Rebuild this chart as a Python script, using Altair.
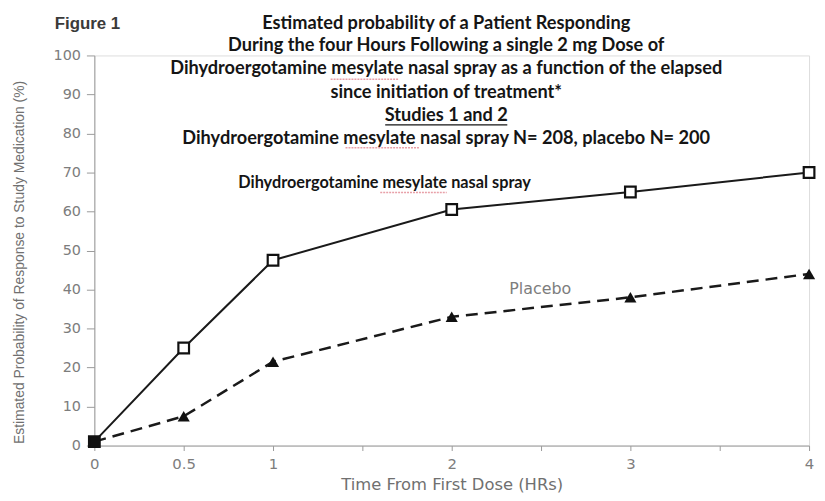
import altair as alt
import pandas as pd

time_hrs = [0, 0.5, 1, 2, 3, 4]
drug = [1, 25, 47.5, 60.5, 65, 70]
placebo = [1, 7.5, 21.5, 33, 38, 44]

title_lines = [
    "Estimated probability of a Patient Responding",
    "During the four Hours Following a single 2 mg Dose of",
    "Dihydroergotamine mesylate nasal spray as a function of the elapsed",
    "since initiation of treatment*",
    "Studies 1 and 2",
    "Dihydroergotamine mesylate nasal spray N= 208, placebo N= 200",
]
drug_label = "Dihydroergotamine mesylate nasal spray"
placebo_label = "Placebo"
fig_label = "Figure 1"

df = pd.DataFrame(
    {"time": time_hrs * 2,
     "value": drug + placebo,
     "series": ["drug"] * len(drug) + ["placebo"] * len(placebo)}
)
ddf = df[df.series == "drug"]
pdf = df[df.series == "placebo"]

GRAY = "#7d7d7d"
xenc = alt.X(
    "time:Q",
    scale=alt.Scale(domain=[0, 4], nice=False),
    axis=alt.Axis(
        values=[0, 0.5, 1, 1.5, 2, 2.5, 3, 3.5, 4],
        format="~g",
        labelExpr="(datum.value == 1.5 || datum.value == 2.5 || datum.value == 3.5) ? '' : datum.label",
        title="Time From First Dose (HRs)",
        grid=False, tickSize=5, labelPadding=6,
        labelFont="DejaVu Sans", labelFontSize=15, labelColor=GRAY,
        titleFont="DejaVu Sans", titleFontSize=16.5, titleColor="#707070",
        titleFontWeight="normal", domainColor="#9a9a9a", tickColor="#9a9a9a",
        titleY=44, titleBaseline="alphabetic",
        labelFlush=False,
    ),
)
yenc = alt.Y(
    "value:Q",
    scale=alt.Scale(domain=[0, 100], nice=False),
    axis=alt.Axis(
        values=list(range(0, 101, 10)),
        title="Estimated Probability of Response to Study Medication (%)",
        grid=False, tickSize=8, labelPadding=6,
        labelFont="DejaVu Sans", labelFontSize=14.5, labelColor=GRAY,
        titleFont="Liberation Sans", titleFontSize=14, titleColor="#707070",
        titleFontWeight="normal", domainColor="#9a9a9a", tickColor="#9a9a9a",
        titleX=-75, titleY=208, titleAngle=-90, titleBaseline="middle",
        titleAlign="center", labelFlush=False,
    ),
)

base_d = alt.Chart(ddf)
base_p = alt.Chart(pdf)

line_d = base_d.mark_line(color="#1a1a1a", strokeWidth=2).encode(x=xenc, y=yenc)
line_p = base_p.mark_line(color="#1a1a1a", strokeWidth=2.5, strokeDash=[12, 7]).encode(x=xenc, y=yenc)
tri = base_p.transform_filter("datum.time > 0").mark_point(
    shape="triangle-up", filled=True, color="#111111", size=150, opacity=1
).encode(x=xenc, y=yenc)
sq = base_d.mark_point(shape="square", size=115, strokeWidth=2.2, stroke="#111111", opacity=1, filled=True).encode(
    x=xenc, y=yenc,
    fill=alt.condition(alt.datum.time == 0, alt.value("#111111"), alt.value("white")),
)

txt_df = pd.DataFrame({"t": [0]})
layers = [line_d, line_p, tri, sq]

# misspelling-style squiggles under "mesylate" (as in the screenshot)
for x1, x2, yy in [(238, 307, 24), (253, 327, 93), (288, 355, 138)]:
    layers.append(
        alt.Chart(txt_df).mark_rule(color="#e8a0a8", strokeWidth=1.5, strokeDash=[2, 1]).encode(
            x=alt.value(x1), x2=alt.value(x2), y=alt.value(yy)
        )
    )

title_y = [-32, -9, 14, 38, 61, 84]
for line, yy in zip(title_lines, title_y):
    layers.append(
        alt.Chart(txt_df).mark_text(
            text=line, font="Lato", fontWeight="bold", fontSize=18.3, color="#151515",
            align="center", baseline="middle",
        ).encode(x=alt.value(354.5), y=alt.value(yy))
    )

layers.append(
    alt.Chart(txt_df).mark_text(
        text=fig_label, font="Liberation Sans", fontWeight="bold", fontSize=17, color="#3a3a3a",
        align="left", baseline="middle",
    ).encode(x=alt.value(-40), y=alt.value(-32))
)
# underline for "Studies 1 and 2"
layers.append(
    alt.Chart(txt_df).mark_rule(color="#151515", strokeWidth=1.3).encode(
        x=alt.value(293), x2=alt.value(416), y=alt.value(70)
    )
)
layers.append(
    alt.Chart(txt_df).mark_text(
        text=drug_label, font="Lato", fontWeight="bold", fontSize=16.4, color="#151515",
        align="left", baseline="middle",
    ).encode(x=alt.value(145), y=alt.value(129))
)
layers.append(
    alt.Chart(txt_df).mark_text(
        text=placebo_label, font="DejaVu Sans", fontSize=16, color=GRAY,
        align="left", baseline="middle",
    ).encode(x=alt.value(418), y=alt.value(235))
)

chart = alt.layer(*layers).properties(
    width=720, height=393,
    autosize=alt.AutoSizeParams(type="none"),
    padding={"left": 87, "top": 46, "right": 8, "bottom": 46},
).configure_view(stroke=None).configure(background="white")

chart.save("out.html", embed_options={"renderer": "svg", "actions": False})
